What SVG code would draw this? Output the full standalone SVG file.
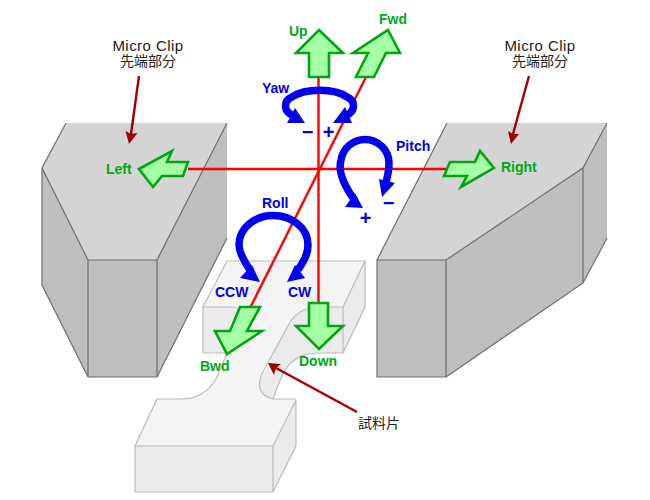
<svg xmlns="http://www.w3.org/2000/svg" width="650" height="500" viewBox="0 0 650 500">
<style>
.t{font-family:"Liberation Sans",Arial,sans-serif;font-weight:bold;font-size:14px}
.g{fill:#00aa14}.b{fill:#0000f0}
.pm{font-size:20px;text-anchor:middle}
.k{font-family:"Liberation Sans","Noto Sans CJK JP",sans-serif;font-size:14px;fill:#222;text-anchor:middle}
.mc{font-size:15px;letter-spacing:.45px}
.ar{fill:#a5ffa5;stroke:#00a514;stroke-width:2.6;stroke-linejoin:miter}
.ax{stroke:#ff0000;stroke-width:2.4;fill:none}
.cl{fill:none;stroke:#0000f0;stroke-width:7.5}
.hd{fill:#0000f0}
.rd{stroke:#a00000;stroke-width:2.4;fill:none}
.rh{fill:#a00000}
.top{fill:#d4d4d4}.dk{fill:#bebebe}.e{stroke:#6e6e6e;stroke-width:1.2;fill:none}
.s1{fill:#f4f4f4}.s2{fill:#ebebeb}.sl{fill:none;stroke:#bbb;stroke-width:1.2}
</style>
<g id="clip-left">
<polygon class="dk" points="42,168 88,260 88,377 42,285"/>
<polygon class="dk" points="227,123 227,238 157,377 157,260"/>
<polygon class="dk" points="88,260 157,260 157,377 88,377"/>
<polygon class="top" points="66,123 227,123 157,260 88,260 42,168"/>
<path class="e" d="M66,123L42,168V285L88,377H157V260H88V377M42,168L88,260M157,260L227,123M157,377L227,238"/>
</g>
<g id="clip-right">
<polygon class="dk" points="583,168 607,123 607,238 583,283"/>
<polygon class="dk" points="446,260 583,168 583,283 446,377"/>
<polygon class="dk" points="377,260 446,260 446,377 377,377"/>
<polygon class="top" points="447,123 607,123 583,168 446,260 377,260"/>
<path class="e" d="M447,123L377,260V377H446V260H377M446,260L583,168V283L446,377M583,168L607,123M583,283L607,238"/>
</g>
<g id="specimen">
<polygon class="s2" points="203,307 343,307 343,353 203,353"/>
<polygon class="s2" points="343,307 365,261 365,307 343,353"/>
<path class="s2" d="M296,312L258,385C257,393 264,398 273,399C280,380 284,368 292,362C298,357 305,353 320,353H343V307H310Z"/>
<path class="s1" d="M203,307L227,261H365L343,307H318C303,307 295,315 290,322L262,374C256,387 261,396 273,399H296L273,446H135L157,399H182C198,399 210,390 217,377L240,322C243,312 238,307 232,307Z"/>
<polygon class="s2" points="135,446 273,446 273,492 135,492"/>
<polygon class="s2" points="273,446 296,400 296,446 273,492"/>
<path class="sl" d="M232,307H203V353H229M203,307L227,261H365L343,307H318C303,307 295,315 290,322L262,374C256,387 261,396 273,399H296M343,307V353H320C305,353 298,357 292,362C284,368 280,380 273,399M343,353L365,307V261"/>
<path class="sl" d="M232,307C238,307 243,312 240,322L217,377C210,390 198,399 182,399H157L135,446H273L296,400V446L273,492H135V446M273,446V492"/>
</g>
<g id="connectors">
<path class="ax" d="M318.500,77V304"/>
<path class="ax" d="M188,169H446"/>
<path class="ax" d="M366,77L250,308"/>
<path class="rd" d="M139,76L131,134"/><polygon class="rh" points="129,144 125.500,131 131,134 137.500,133"/>
<path class="rd" d="M529,76L513,134"/><polygon class="rh" points="511,144 508,131 513,134 519,134"/>
<path class="rd" d="M357,412L276,368"/><polygon class="rh" points="268,363 281,364 276,368 274,375"/>
</g>
<g id="arrow-up"><polygon class="ar" points="319,30 343,53 329,53 329,77 309,77 309,53 296,53"/></g>
<g id="arrow-fwd"><polygon class="ar" points="388,30 400,53 386,53 374,77 356,77 368,53 353,53"/></g>
<g id="arrow-left"><polygon class="ar" points="139,169 172,151 167,162 188,162 183,176 162,176 153,187"/></g>
<g id="arrow-right"><polygon class="ar" points="494,168 480,151 475,162 450,162 444,176 467,176 461,187"/></g>
<g id="arrow-bwd"><polygon class="ar" points="240,307 260,307 247,331 262,331 227,354 215,331 230,331"/></g>
<g id="arrow-down"><polygon class="ar" points="309,303 328,303 328,326 343,326 319,349 296,326 309,326"/></g>
<g id="rotations">
<path class="cl" d="M294,116C283,112 283,101 292,97C305,88 335,88 347,97C356,101 356,112 345,116"/>
<polygon class="hd" points="287,123 305,123 295,108"/>
<polygon class="hd" points="333,123 352,123 345,107"/>
<path class="cl" d="M353,198C342,182 338,170 341,160C343,148 353,139.500 365,139.500C378,139.500 389,150 389,163C389,170 388,175 386,182"/>
<polygon class="hd" points="345,207 363,208 355,193"/>
<polygon class="hd" points="382,197 395,183 379,179"/>
<path class="cl" d="M250,270C242,258 239,250 239,245C239,228 255,215.500 273,215.500C292,215.500 308,228 308,245C308,255 303,262 298,270"/>
<polygon class="hd" points="260,282 240,278 252,265"/>
<polygon class="hd" points="287,282 305,278 295,265"/>
</g>
<g id="labels">
<text class="t g" x="289" y="36">Up</text>
<text class="t g" x="379" y="24">Fwd</text>
<text class="t g" x="106" y="174">Left</text>
<text class="t g" x="501" y="172">Right</text>
<text class="t g" x="200" y="371">Bwd</text>
<text class="t g" x="299" y="366">Down</text>
<text class="t b" x="262" y="93">Yaw</text>
<text class="t b" x="396" y="151">Pitch</text>
<text class="t b" x="262" y="208">Roll</text>
<text class="t b" x="215" y="297">CCW</text>
<text class="t b" x="288" y="297">CW</text>
<text class="t b pm" x="307.500" y="139">−</text>
<text class="t b pm" x="328.500" y="139">+</text>
<text class="t b pm" x="388.500" y="210">−</text>
<text class="t b pm" x="365.500" y="225">+</text>
<text class="k mc" x="148" y="51">Micro Clip</text>
<text class="k" x="148" y="66">先端部分</text>
<text class="k mc" x="540" y="51">Micro Clip</text>
<text class="k" x="540" y="66">先端部分</text>
<text class="k" x="379" y="428">試料片</text>
</g>
</svg>
